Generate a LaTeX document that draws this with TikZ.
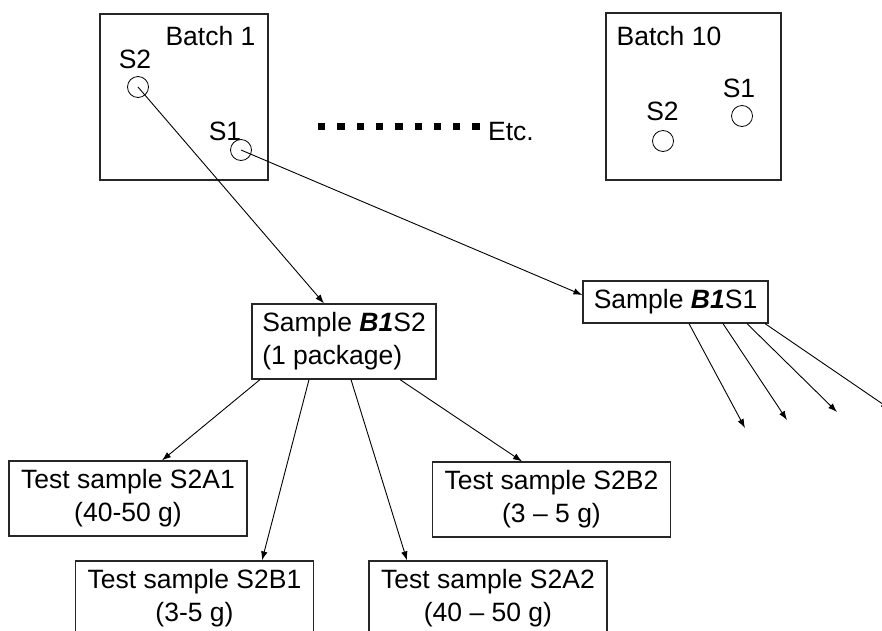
\documentclass[tikz,border=0pt]{standalone}
\usepackage{fontspec}
\setmainfont{Liberation Sans}
\usepackage{tikz}
\usetikzlibrary{arrows.meta,positioning}

\begin{document}
\begin{tikzpicture}[x=1pt,y=-1pt,font=\fontsize{26.5}{33}\selectfont]
%% box shapes and arrows
\tikzstyle{batch}=[draw=black!85,line width=1.2pt,minimum width=168pt,minimum height=166pt,inner sep=0pt]
\tikzstyle{sample}=[draw=black!85,line width=1.2pt,minimum width=184pt,inner sep=0pt,align=left]
\tikzstyle{test}=[draw=black!85,line width=1.2pt,minimum width=238pt,minimum height=75pt,inner sep=0pt,align=center]
\tikzstyle{spot}=[circle,draw,minimum size=21pt,inner sep=0pt,line width=0.8pt]
\tikzstyle{lbl}=[anchor=base,inner sep=0pt]
\tikzstyle{link}=[->,>={Latex[length=9pt,width=6.5pt]},line width=0.9pt]

\useasboundingbox (0,0) rectangle (882,630);
\clip (0,0) rectangle (882,630);

%% nodes
% batches
\node[batch] (batch1) at (184,97) {};
\node[batch,minimum width=175pt,minimum height=167pt] (batch10) at (693.5,96.5) {};
\node[lbl] (batch1-name) at (210.5,45) {Batch 1};
\node[lbl] (batch10-name) at (669,45) {Batch 10};
% sampling spots
\foreach \name/\x/\y in {B1-S2/138/87,B1-S1/241/150,B10-S1/742/116,B10-S2/663/141}
\node[spot] (\name) at (\x,\y) {};
\foreach \name/\txt/\x/\y in {B1-S2/S2/135/68,B1-S1/S1/225/140,B10-S1/S1/739/97,B10-S2/S2/662.5/120}
\node[lbl] (\name-name) at (\x,\y) {\txt};
% etc.
\foreach \i in {0,...,8}
\fill (318+19.3*\i,123) rectangle ++(7.3,7.3);
\node[lbl] (etc) at (511,140) {Etc.};
% samples
\node[sample,minimum height=75pt] (B1S2) at (344,341.5) {Sample \textbf{\textit{B1}}S2\\(1 package)};
\node[sample,minimum width=185pt,minimum height=42pt] (B1S1) at (675.5,302) {Sample \textbf{\textit{B1}}S1};
% test samples
\node[test] (S2A1) at (128,498.5) {Test sample S2A1\\(40-50 g)};
\node[test] (S2B2) at (551.5,499.5) {Test sample S2B2\\(3 -- 5 g)};
\node[test] (S2B1) at (194.5,598.5) {Test sample S2B1\\(3-5 g)};
\node[test] (S2A2) at (488,598.5) {Test sample S2A2\\(40 -- 50 g)};
% loose ends
\foreach \name/\x/\y in {e1/745/428,e2/787/420,e3/837/412,e4/890/409}
\coordinate (\name) at (\x,\y);

%% arrows
\draw[link] (B1-S2.center) -- ([xshift=-20pt]B1S2.north);
\draw[link] (B1-S1.center) -- ([yshift=7pt]B1S1.west);
\foreach \to/\a/\b in {S2A1/-84/34,S2B1/-35/67.5,S2A2/7/-81,S2B2/56/-29.5}
\draw[link] ([xshift=\a pt]B1S2.south) -- ([xshift=\b pt]\to.north);
\foreach \to/\a in {e1/13.5,e2/47.5,e3/71.5,e4/89.5}
\draw[link] ([xshift=\a pt]B1S1.south) -- (\to);
\end{tikzpicture}
\end{document}
